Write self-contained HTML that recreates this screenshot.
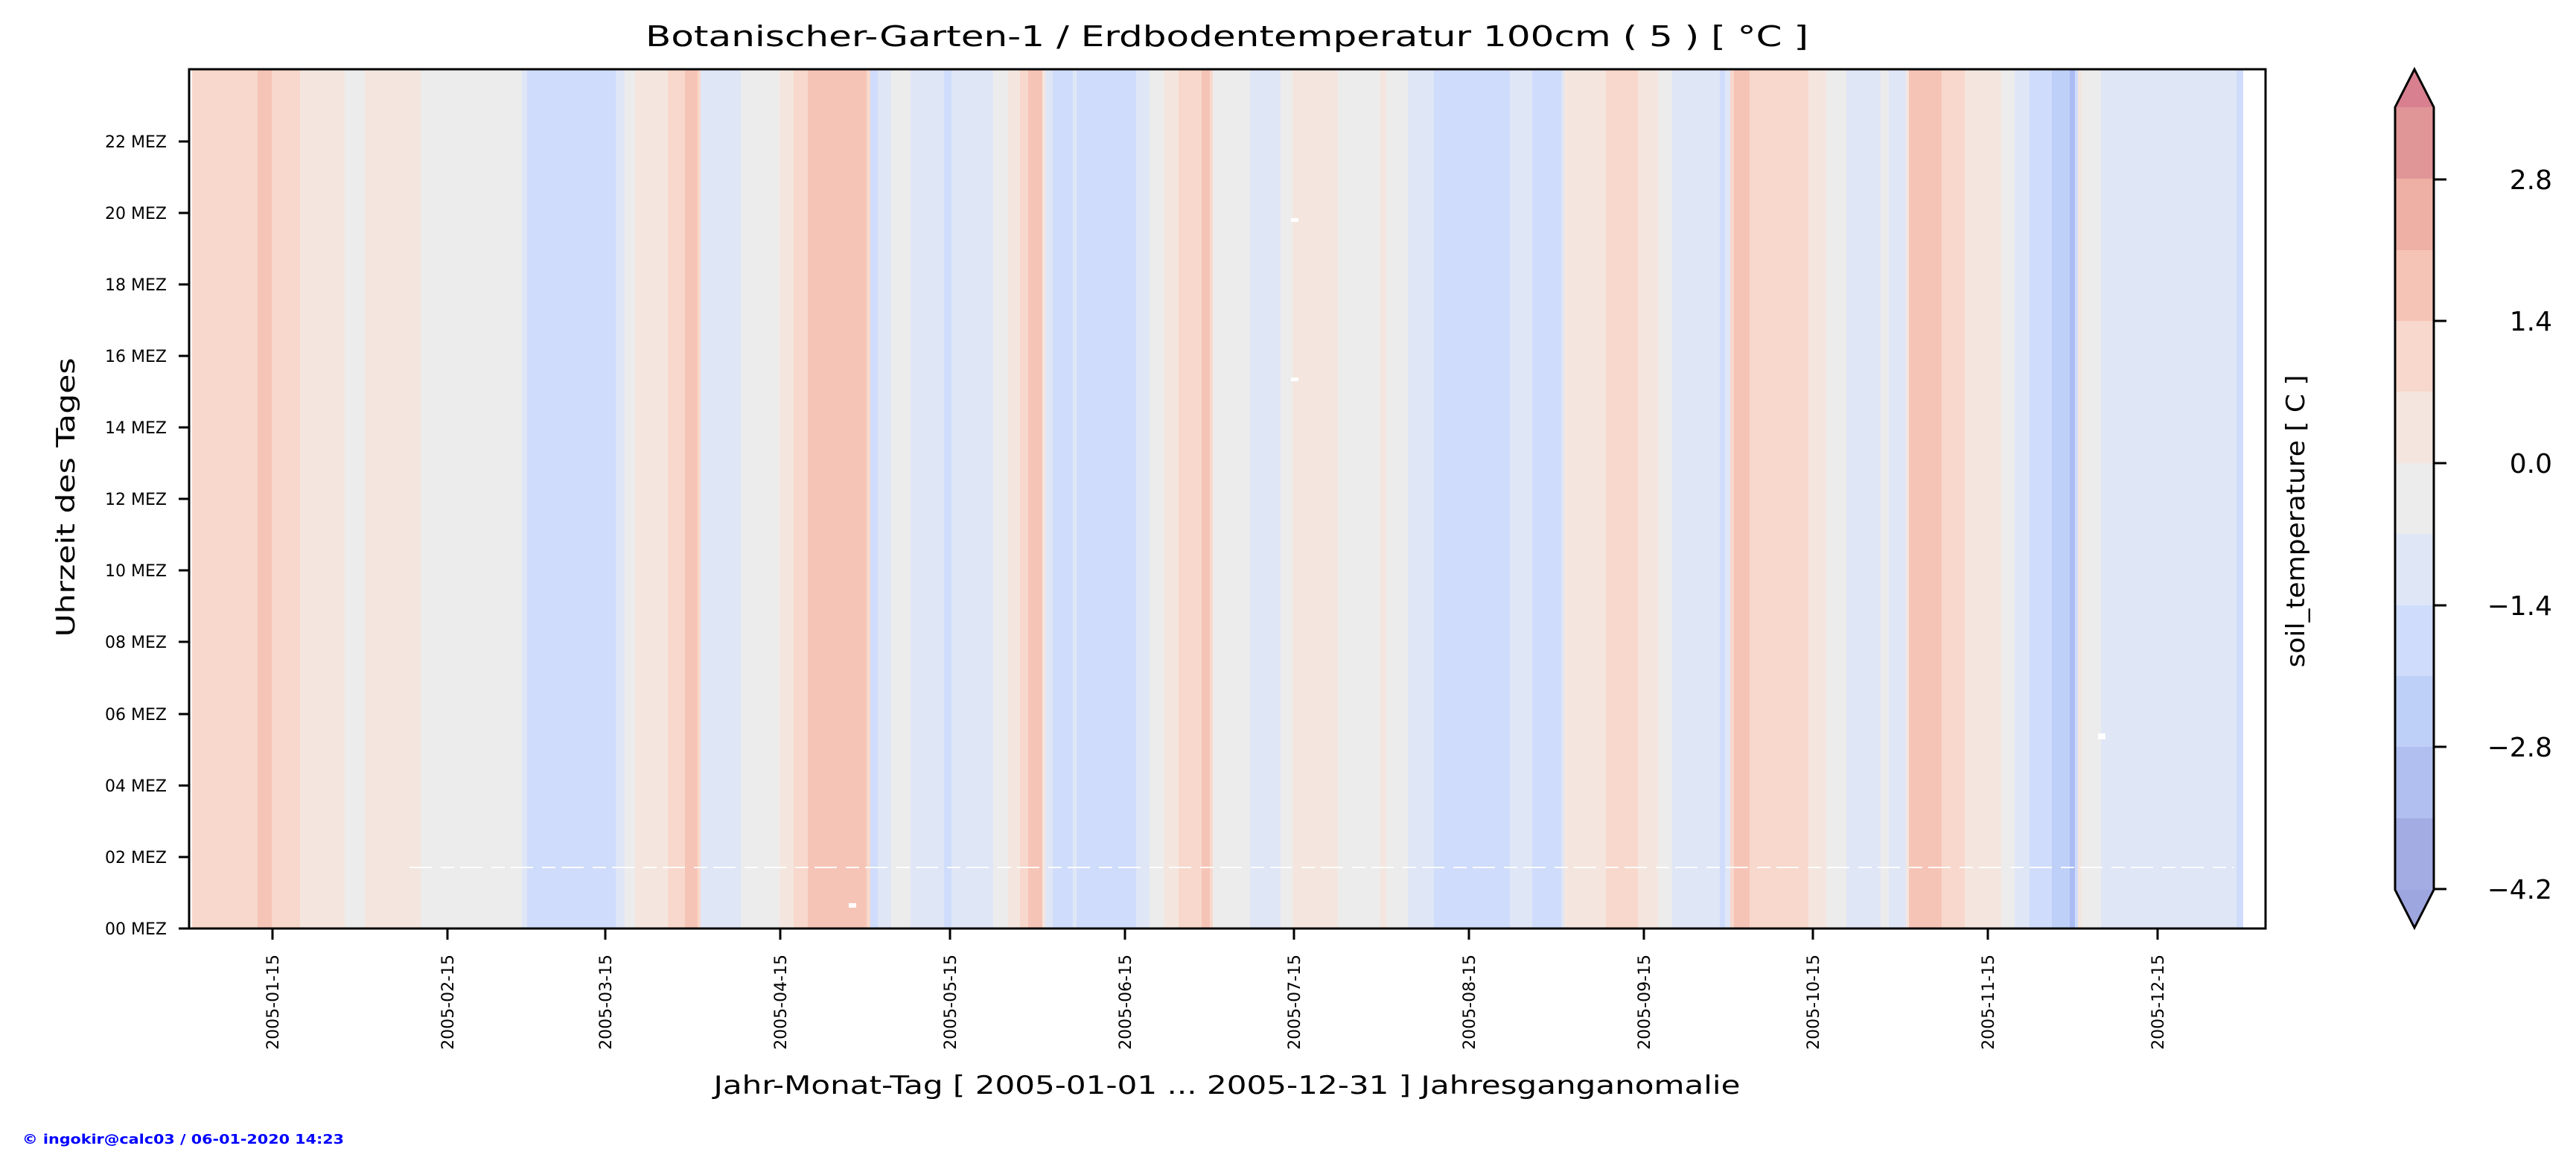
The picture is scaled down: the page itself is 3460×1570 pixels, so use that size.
<!DOCTYPE html>
<html><head><meta charset="utf-8"><style>html,body{margin:0;padding:0;background:#fff}svg{display:block}</style></head>
<body>
<svg width="3460" height="1570" xmlns="http://www.w3.org/2000/svg" font-family="DejaVu Sans, Liberation Sans, sans-serif">
<rect width="3460" height="1570" fill="#fff"/>
<g shape-rendering="crispEdges">
<rect x="254" y="93" width="4" height="1154" fill="#fff"/>
<rect x="258" y="93" width="88" height="1154" fill="#f8d8cc"/>
<rect x="346" y="93" width="19" height="1154" fill="#f6c4b6"/>
<rect x="365" y="93" width="38" height="1154" fill="#f8d8cc"/>
<rect x="403" y="93" width="60" height="1154" fill="#f4e6df"/>
<rect x="463" y="93" width="27" height="1154" fill="#ececec"/>
<rect x="490" y="93" width="75" height="1154" fill="#f4e6df"/>
<rect x="565" y="93" width="136" height="1154" fill="#ececec"/>
<rect x="701" y="93" width="7" height="1154" fill="#dfe6f6"/>
<rect x="708" y="93" width="119" height="1154" fill="#cfdcfb"/>
<rect x="827" y="93" width="12" height="1154" fill="#dfe6f6"/>
<rect x="839" y="93" width="14" height="1154" fill="#ececec"/>
<rect x="853" y="93" width="44" height="1154" fill="#f4e6df"/>
<rect x="897" y="93" width="23" height="1154" fill="#f8d8cc"/>
<rect x="920" y="93" width="17" height="1154" fill="#f6c4b6"/>
<rect x="937" y="93" width="4" height="1154" fill="#f8d8cc"/>
<rect x="941" y="93" width="54" height="1154" fill="#dfe6f6"/>
<rect x="995" y="93" width="52" height="1154" fill="#ececec"/>
<rect x="1047" y="93" width="19" height="1154" fill="#f4e6df"/>
<rect x="1066" y="93" width="19" height="1154" fill="#f8d8cc"/>
<rect x="1085" y="93" width="79" height="1154" fill="#f6c4b6"/>
<rect x="1164" y="93" width="5" height="1154" fill="#f8d8cc"/>
<rect x="1169" y="93" width="10" height="1154" fill="#cfdcfb"/>
<rect x="1179" y="93" width="18" height="1154" fill="#dfe6f6"/>
<rect x="1197" y="93" width="26" height="1154" fill="#ececec"/>
<rect x="1223" y="93" width="45" height="1154" fill="#dfe6f6"/>
<rect x="1268" y="93" width="10" height="1154" fill="#cfdcfb"/>
<rect x="1278" y="93" width="56" height="1154" fill="#dfe6f6"/>
<rect x="1334" y="93" width="20" height="1154" fill="#ececec"/>
<rect x="1354" y="93" width="16" height="1154" fill="#f4e6df"/>
<rect x="1370" y="93" width="11" height="1154" fill="#f8d8cc"/>
<rect x="1381" y="93" width="19" height="1154" fill="#f6c4b6"/>
<rect x="1400" y="93" width="4" height="1154" fill="#f4e6df"/>
<rect x="1404" y="93" width="10" height="1154" fill="#dfe6f6"/>
<rect x="1414" y="93" width="112" height="1154" fill="#cfdcfb"/>
<rect x="1441" y="93" width="5" height="1154" fill="#dfe6f6"/>
<rect x="1526" y="93" width="18" height="1154" fill="#dfe6f6"/>
<rect x="1544" y="93" width="20" height="1154" fill="#ececec"/>
<rect x="1564" y="93" width="19" height="1154" fill="#f4e6df"/>
<rect x="1583" y="93" width="31" height="1154" fill="#f8d8cc"/>
<rect x="1614" y="93" width="11" height="1154" fill="#f6c4b6"/>
<rect x="1625" y="93" width="4" height="1154" fill="#f8d8cc"/>
<rect x="1629" y="93" width="50" height="1154" fill="#ececec"/>
<rect x="1679" y="93" width="41" height="1154" fill="#dfe6f6"/>
<rect x="1720" y="93" width="16" height="1154" fill="#ececec"/>
<rect x="1736" y="93" width="61" height="1154" fill="#f4e6df"/>
<rect x="1797" y="93" width="57" height="1154" fill="#ececec"/>
<rect x="1854" y="93" width="8" height="1154" fill="#f4e6df"/>
<rect x="1862" y="93" width="29" height="1154" fill="#ececec"/>
<rect x="1891" y="93" width="35" height="1154" fill="#dfe6f6"/>
<rect x="1926" y="93" width="102" height="1154" fill="#cfdcfb"/>
<rect x="2028" y="93" width="30" height="1154" fill="#dfe6f6"/>
<rect x="2058" y="93" width="39" height="1154" fill="#cfdcfb"/>
<rect x="2097" y="93" width="4" height="1154" fill="#dfe6f6"/>
<rect x="2101" y="93" width="56" height="1154" fill="#f4e6df"/>
<rect x="2157" y="93" width="43" height="1154" fill="#f8d8cc"/>
<rect x="2200" y="93" width="27" height="1154" fill="#f4e6df"/>
<rect x="2227" y="93" width="19" height="1154" fill="#ececec"/>
<rect x="2246" y="93" width="78" height="1154" fill="#dfe6f6"/>
<rect x="2310" y="93" width="7" height="1154" fill="#cfdcfb"/>
<rect x="2324" y="93" width="5" height="1154" fill="#f8d8cc"/>
<rect x="2329" y="93" width="21" height="1154" fill="#f6c4b6"/>
<rect x="2350" y="93" width="79" height="1154" fill="#f8d8cc"/>
<rect x="2429" y="93" width="24" height="1154" fill="#f4e6df"/>
<rect x="2453" y="93" width="27" height="1154" fill="#ececec"/>
<rect x="2480" y="93" width="46" height="1154" fill="#dfe6f6"/>
<rect x="2526" y="93" width="11" height="1154" fill="#ececec"/>
<rect x="2537" y="93" width="23" height="1154" fill="#dfe6f6"/>
<rect x="2560" y="93" width="4" height="1154" fill="#f4e6df"/>
<rect x="2564" y="93" width="44" height="1154" fill="#f6c4b6"/>
<rect x="2608" y="93" width="31" height="1154" fill="#f8d8cc"/>
<rect x="2639" y="93" width="49" height="1154" fill="#f4e6df"/>
<rect x="2688" y="93" width="18" height="1154" fill="#ececec"/>
<rect x="2706" y="93" width="20" height="1154" fill="#dfe6f6"/>
<rect x="2726" y="93" width="30" height="1154" fill="#cfdcfb"/>
<rect x="2756" y="93" width="24" height="1154" fill="#bfd0f8"/>
<rect x="2780" y="93" width="7" height="1154" fill="#aabcf2"/>
<rect x="2787" y="93" width="4" height="1154" fill="#cfdcfb"/>
<rect x="2791" y="93" width="5" height="1154" fill="#f4e6df"/>
<rect x="2796" y="93" width="26" height="1154" fill="#ececec"/>
<rect x="2822" y="93" width="182" height="1154" fill="#dfe6f6"/>
<rect x="3004" y="93" width="9" height="1154" fill="#cfdcfb"/>
<rect x="1140" y="1213" width="10" height="6" fill="#fff"/>
<rect x="1734" y="293" width="10" height="5" fill="#fff"/>
<rect x="1734" y="507" width="10" height="5" fill="#fff"/>
<rect x="2818" y="985" width="10" height="8" fill="#fff"/>
</g>
<line x1="550" y1="1165" x2="3000" y2="1165" stroke="#fff" stroke-width="2" stroke-dasharray="30,12,18,8" opacity="0.9"/>
<rect x="254" y="93" width="2789" height="1154" fill="none" stroke="#000" stroke-width="3"/>
<g stroke="#000" stroke-width="3">
<line x1="240" y1="1247" x2="254" y2="1247"/><line x1="240" y1="1151" x2="254" y2="1151"/>
<line x1="240" y1="1055" x2="254" y2="1055"/><line x1="240" y1="959" x2="254" y2="959"/>
<line x1="240" y1="862" x2="254" y2="862"/><line x1="240" y1="766" x2="254" y2="766"/>
<line x1="240" y1="670" x2="254" y2="670"/><line x1="240" y1="574" x2="254" y2="574"/>
<line x1="240" y1="478" x2="254" y2="478"/><line x1="240" y1="382" x2="254" y2="382"/>
<line x1="240" y1="286" x2="254" y2="286"/><line x1="240" y1="190" x2="254" y2="190"/>
<line x1="366" y1="1247" x2="366" y2="1262"/><line x1="601" y1="1247" x2="601" y2="1262"/>
<line x1="813" y1="1247" x2="813" y2="1262"/><line x1="1048" y1="1247" x2="1048" y2="1262"/>
<line x1="1276" y1="1247" x2="1276" y2="1262"/><line x1="1511" y1="1247" x2="1511" y2="1262"/>
<line x1="1738" y1="1247" x2="1738" y2="1262"/><line x1="1973" y1="1247" x2="1973" y2="1262"/>
<line x1="2208" y1="1247" x2="2208" y2="1262"/><line x1="2435" y1="1247" x2="2435" y2="1262"/>
<line x1="2670" y1="1247" x2="2670" y2="1262"/><line x1="2898" y1="1247" x2="2898" y2="1262"/>
</g>
<g font-size="22" text-anchor="end" fill="#000">
<text x="224" y="1255">00 MEZ</text><text x="224" y="1159">02 MEZ</text>
<text x="224" y="1063">04 MEZ</text><text x="224" y="967">06 MEZ</text>
<text x="224" y="870">08 MEZ</text><text x="224" y="774">10 MEZ</text>
<text x="224" y="678">12 MEZ</text><text x="224" y="582">14 MEZ</text>
<text x="224" y="486">16 MEZ</text><text x="224" y="390">18 MEZ</text>
<text x="224" y="294">20 MEZ</text><text x="224" y="198">22 MEZ</text>
</g>
<g font-size="22" text-anchor="end" fill="#000">
<text transform="translate(374,1282) rotate(-90)">2005-01-15</text>
<text transform="translate(609,1282) rotate(-90)">2005-02-15</text>
<text transform="translate(821,1282) rotate(-90)">2005-03-15</text>
<text transform="translate(1056,1282) rotate(-90)">2005-04-15</text>
<text transform="translate(1284,1282) rotate(-90)">2005-05-15</text>
<text transform="translate(1519,1282) rotate(-90)">2005-06-15</text>
<text transform="translate(1746,1282) rotate(-90)">2005-07-15</text>
<text transform="translate(1981,1282) rotate(-90)">2005-08-15</text>
<text transform="translate(2216,1282) rotate(-90)">2005-09-15</text>
<text transform="translate(2443,1282) rotate(-90)">2005-10-15</text>
<text transform="translate(2678,1282) rotate(-90)">2005-11-15</text>
<text transform="translate(2906,1282) rotate(-90)">2005-12-15</text>
</g>
<text x="1648" y="62" font-size="38" text-anchor="middle" textLength="1562" lengthAdjust="spacingAndGlyphs">Botanischer-Garten-1 / Erdbodentemperatur 100cm ( 5 ) [ °C ]</text>
<text x="1648" y="1469" font-size="34" text-anchor="middle" textLength="1379" lengthAdjust="spacingAndGlyphs">Jahr-Monat-Tag [ 2005-01-01 ... 2005-12-31 ] Jahresganganomalie</text>
<text transform="translate(100,668) rotate(-90)" font-size="34" text-anchor="middle" textLength="375" lengthAdjust="spacingAndGlyphs">Uhrzeit des Tages</text>
<text transform="translate(3095,700) rotate(-90)" font-size="34" text-anchor="middle" textLength="393" lengthAdjust="spacingAndGlyphs">soil_temperature [ C ]</text>
<text x="30" y="1536" font-size="18" font-weight="bold" fill="#0000ff" textLength="432" lengthAdjust="spacingAndGlyphs">© ingokir@calc03 / 06-01-2020 14:23</text>
<g shape-rendering="crispEdges">
<rect x="3217" y="144" width="52" height="96" fill="#e09597"/>
<rect x="3217" y="240" width="52" height="96" fill="#eeb0a5"/>
<rect x="3217" y="336" width="52" height="95" fill="#f6c4b6"/>
<rect x="3217" y="431" width="52" height="95" fill="#f8d8cc"/>
<rect x="3217" y="526" width="52" height="96" fill="#f4e6df"/>
<rect x="3217" y="622" width="52" height="95" fill="#ececec"/>
<rect x="3217" y="717" width="52" height="96" fill="#dfe6f6"/>
<rect x="3217" y="813" width="52" height="95" fill="#cfdcfb"/>
<rect x="3217" y="908" width="52" height="95" fill="#bfd0f8"/>
<rect x="3217" y="1003" width="52" height="96" fill="#b0bff0"/>
<rect x="3217" y="1099" width="52" height="96" fill="#a3ade3"/>
</g>
<polygon points="3217,144 3243,93 3269,144" fill="#d88090"/>
<polygon points="3217,1195 3243,1246 3269,1195" fill="#9ea6e0"/>
<polygon points="3217,144 3243,93 3269,144 3269,1195 3243,1246 3217,1195" fill="none" stroke="#000" stroke-width="3"/>
<g stroke="#000" stroke-width="3">
<line x1="3269" y1="241" x2="3286" y2="241"/><line x1="3269" y1="431" x2="3286" y2="431"/>
<line x1="3269" y1="622" x2="3286" y2="622"/><line x1="3269" y1="813" x2="3286" y2="813"/>
<line x1="3269" y1="1003" x2="3286" y2="1003"/><line x1="3269" y1="1194" x2="3286" y2="1194"/>
</g>
<g font-size="36" text-anchor="end" fill="#000">
<text x="3428" y="254">2.8</text><text x="3428" y="444">1.4</text>
<text x="3428" y="635">0.0</text><text x="3428" y="826">−1.4</text>
<text x="3428" y="1016">−2.8</text><text x="3428" y="1207">−4.2</text>
</g>
</svg>
</body></html>
